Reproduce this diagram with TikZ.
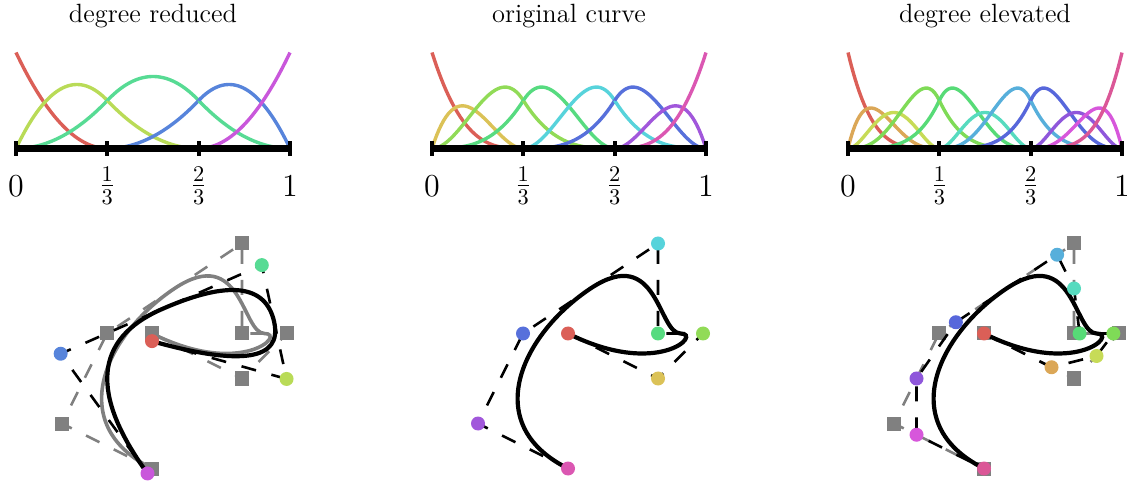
\RequirePackage{fix-cm}
\documentclass[tikz,border=0pt]{standalone}
\usepackage{fontspec}
\usetikzlibrary{calc}

% colour number #1 out of #2 (same hues for basis functions and control points)
\newcommand{\setbcol}[2]{%
  \pgfmathsetmacro\bhue{3.6+360*#1/#2}%
  \definecolor{bhsb}{Hsb}{\bhue,0.6047,0.86}%
  \colorlet{bcol}[rgb]{bhsb}}
% C1 cubic spline of the original curve, control points #10 ... #17
\newcommand{\splinepath}[1]{(#10) .. controls (#11) and (#12) .. ($(#12)!.5!(#13)$)
  .. controls (#13) and (#14) .. ($(#14)!.5!(#15)$)
  .. controls (#15) and (#16) .. (#17)}

\begin{document}
\begin{tikzpicture}[
  x=0.5pt,
  y=-0.5pt,
  title/.style={font=\fontsize{13.2}{16}\selectfont, inner sep=0pt},
  ticklabel/.style={font=\fontsize{16}{19}\selectfont, inner sep=0pt},
  basis/.style={line width=1.7pt},
  axisline/.style={line width=3.1pt},
  tickmark/.style={line width=2pt},
  curve/.style={line width=2.1pt},
  oldcurve/.style={line width=1.8pt, draw=gray},
  poly/.style={line width=1.3pt, dash pattern=on 7.5pt off 8pt},
  oldpoly/.style={poly, draw=gray},
  oldpt/.style={rectangle, fill=gray, minimum size=7pt, inner sep=0pt},
  newpt/.style={circle, minimum size=7pt, inner sep=0pt}
]
  \useasboundingbox (0,0) rectangle (1127,485);

  % Basis functions, one panel per degree
  \foreach \p/\dx/\ttl in {2/0/degree reduced, 3/416/original curve, 4/832/degree elevated}{
    \node[title] (title\p) at (153+\dx,16.5) {\ttl};
    \begin{scope}[shift={(16+\dx,148.5)}, x=137pt, y=48pt]
      \pgfmathtruncatemacro\n{3*\p-1}
      \foreach \k in {0,1,2}{
        \foreach \j in {0,...,\p}{
          \pgfmathtruncatemacro\i{\k*(\p-1)+\j}
          \setbcol{\i}{\n}
          \pgfmathsetmacro\bc{factorial(\p)/(factorial(\j)*factorial(\p-\j))}
          \pgfmathsetmacro\wm{(\j>0 && \j<\p) ? 1 : (((\j==0 && \k==0) || (\j==\p && \k==2)) ? 1 : 0.5)}
          \pgfmathsetmacro\wa{(\j==1 && \k>0) ? 0.5 : 0}
          \pgfmathsetmacro\wb{(\j==\p-1 && \k<2) ? 0.5 : 0}
          \draw[basis, bcol] plot[domain=0:1, samples=40]
            ({(\k+\x)/3}, {\wm*\bc*(\x)^\j*(1-\x)^(\p-\j) + \wa*(1-\x)^\p + \wb*(\x)^\p});
        }
      }
      \draw[axisline] (0,0) -- (1,0);
      \foreach \t/\lbl in {0/0, 1/\frac{1}{3}, 2/\frac{2}{3}, 3/1}{
        \draw[tickmark] (\t/3,0) ++(0pt,-3.75pt) -- ++(0pt,7.5pt);
        \node[ticklabel] (tick\p\t) at (\t/3,0) [yshift=-18.7pt] {$\lbl$};
      }
    \end{scope}
  }

  % Control points of the original curve, once per panel
  \foreach \pre/\cx in {L/152, M/568, R/984}{
    \begin{scope}[shift={(\cx,333.5)}, x=22.5pt, y=22.5pt]
      \foreach \px/\py [count=\i from 0] in {0/0, 2/-1, 3/0, 2/0, 2/2, -1/0, -2/-2, 0/-3}
        \coordinate (\pre o\i) at (\px,\py);
    \end{scope}
  }

  % Reduced and elevated control points
  \begin{scope}[shift={(152,333.5)}, x=22.5pt, y=22.5pt]
    \foreach \px/\py [count=\i from 0] in {0/-0.17, 2.99/-1.01, 2.44/1.52, -2.03/-0.45, -0.1/-3.11}
      \coordinate (r\i) at (\px,\py);
    \coordinate (r12) at ($(r1)!.5!(r2)$);
    \coordinate (r23) at ($(r2)!.5!(r3)$);
  \end{scope}
  \begin{scope}[shift={(984,333.5)}, x=22.5pt, y=22.5pt]
    \foreach \px/\py [count=\i from 0] in {0/0, 1.5/-0.75, 2.5/-0.5, 2.875/0, 2.125/0, 2/1, 1.625/1.75, -0.625/0.25, -1.5/-1, -1.5/-2.25, 0/-3}
      \coordinate (e\i) at (\px,\py);
  \end{scope}

  % Degree reduced
  \draw[oldpoly] (Lo0) \foreach \i in {1,...,7}{ -- (Lo\i)};
  \draw[oldcurve] \splinepath{Lo};
  \foreach \i in {0,...,7}
    \node[oldpt] (Lsq\i) at (Lo\i) {};
  \draw[poly] (r0) \foreach \i in {1,...,4}{ -- (r\i)};
  \draw[curve] (r0) .. controls ($(r0)!2/3!(r1)$) and ($(r12)!2/3!(r1)$) .. (r12)
    .. controls ($(r12)!2/3!(r2)$) and ($(r23)!2/3!(r2)$) .. (r23)
    .. controls ($(r23)!2/3!(r3)$) and ($(r4)!2/3!(r3)$) .. (r4);
  \foreach \i in {0,...,4}{
    \setbcol{\i}{5}
    \node[newpt, fill=bcol] (rdot\i) at (r\i) {};
  }

  % Original curve
  \draw[poly] (Mo0) \foreach \i in {1,...,7}{ -- (Mo\i)};
  \draw[curve] \splinepath{Mo};
  \foreach \i in {0,...,7}{
    \setbcol{\i}{8}
    \node[newpt, fill=bcol] (odot\i) at (Mo\i) {};
  }

  % Degree elevated
  \draw[oldpoly] (Ro0) \foreach \i in {1,...,7}{ -- (Ro\i)};
  \foreach \i in {0,...,7}
    \node[oldpt] (Rsq\i) at (Ro\i) {};
  \draw[poly] (e0) \foreach \i in {1,...,10}{ -- (e\i)};
  \draw[curve] \splinepath{Ro};
  \foreach \i in {0,...,10}{
    \setbcol{\i}{11}
    \node[newpt, fill=bcol] (edot\i) at (e\i) {};
  }

\end{tikzpicture}
\end{document}
